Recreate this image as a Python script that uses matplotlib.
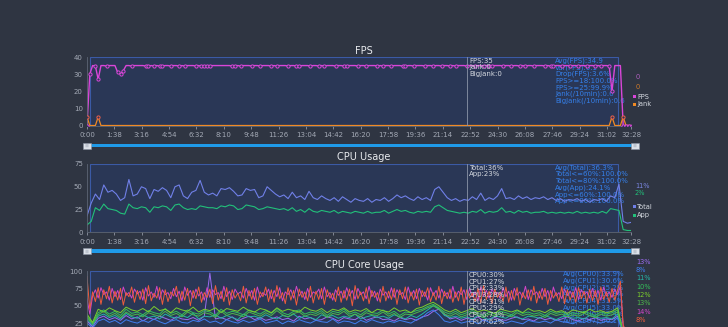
import numpy as np
import matplotlib
matplotlib.use("Agg")
import matplotlib.pyplot as plt
from matplotlib.patches import Rectangle

# ---- data ----
# FPS panel, one sample every 10 s
fps = [0, 30, 35, 34.7, 27, 35, 35, 34.7, 35, 35, 35, 31, 30, 32, 35, 35, 34.7, 35, 35, 35,
       35, 34.7, 34.7, 35, 34.7, 35, 34.7, 34.7, 35, 35, 34.7, 35, 35, 34.7, 35, 34.7, 35, 35, 35, 34.7,
       35, 34.7, 34.7, 34.7, 34.7, 35, 35, 35, 35, 35, 35, 35, 34.7, 34.7, 35, 34.7, 35, 35, 35, 34.7,
       35, 35, 34.7, 35, 35, 35, 34.7, 35, 34.7, 35, 35, 35, 34.7, 35, 35, 34.7, 34.7, 35, 35, 35,
       34.7, 35, 35, 34.7, 35, 34.7, 35, 35, 35, 34.7, 35, 35, 34.7, 34.7, 35, 35, 35, 34.7, 35, 35,
       34.7, 35, 35, 35, 34.7, 35, 34.7, 35, 35, 34.7, 35, 35, 35, 34.7, 34.7, 35, 35, 34.7, 35, 35,
       35, 34.7, 35, 35, 34.7, 35, 35, 34.7, 35, 35, 34.7, 35, 34.7, 35, 35, 35, 34.7, 35, 35, 34.7,
       35, 35, 34.7, 35, 34.7, 34.7, 35, 35, 35, 34.7, 35, 35, 34.7, 35, 35, 34.7, 35, 34.7, 35, 35,
       34.7, 35, 35, 35, 34.7, 35, 34.7, 34.7, 35, 35, 34.7, 35, 35, 34.7, 35, 35, 34.7, 35, 35, 34.7,
       35, 35, 34.7, 35, 34.7, 35, 35, 34.7, 20, 35, 35, 35, 0, 0, 0, 0]
jank = [5, 0, 0, 0, 5] + [0] * 183 + [5, 0, 0, 0, 5, 0, 0, 0]

# CPU usage panel, one sample every 15 s
cpu_total = [18, 32, 42, 36, 52, 44, 46, 42, 35, 38, 58, 40, 42, 50, 48, 37, 47, 45, 49, 46,
             38, 50, 52, 40, 37, 44, 46, 57, 44, 41, 43, 40, 48, 47, 49, 45, 40, 41, 48, 46,
             47, 38, 40, 50, 46, 42, 39, 41, 37, 44, 38, 40, 36, 45, 38, 36, 40, 37, 35, 38,
             34, 39, 36, 33, 37, 35, 34, 37, 33, 36, 35, 38, 34, 37, 41, 38, 40, 37, 35, 39,
             36, 38, 35, 47, 50, 44, 38, 35, 37, 34, 36, 35, 39, 36, 43, 35, 38, 36, 40, 48,
             37, 38, 36, 40, 37, 39, 36, 38, 37, 39, 36, 38, 35, 37, 34, 36, 35, 37, 34, 36,
             33, 36, 35, 37, 34, 40, 38, 53, 12, 10, 11]
cpu_app = [8, 12, 27, 24, 31, 26, 25, 24, 21, 20, 31, 27, 26, 28, 27, 22, 28, 27, 29, 28,
           24, 30, 31, 27, 25, 26, 25, 29, 28, 27, 27, 26, 29, 28, 30, 29, 25, 26, 30, 29,
           28, 25, 26, 28, 27, 26, 25, 26, 24, 27, 23, 25, 22, 26, 23, 22, 24, 23, 22, 24,
           21, 23, 22, 21, 23, 22, 21, 23, 21, 22, 22, 24, 21, 23, 25, 23, 24, 22, 21, 23,
           22, 23, 22, 28, 30, 27, 24, 23, 22, 21, 22, 21, 23, 22, 25, 21, 23, 22, 23, 27,
           22, 23, 21, 24, 22, 23, 21, 22, 22, 23, 21, 22, 21, 22, 21, 22, 21, 23, 21, 22,
           21, 22, 21, 23, 21, 26, 25, 24, 3, 2, 2]

# CPU cores: cpu0-cpu5 one sample every 20 s, cpu6/cpu7 every 10 s
cpu0 = [28, 20, 32, 35, 30, 33, 29, 36, 31, 34, 28, 33, 30, 35, 32, 29, 34, 31, 30, 33,
        29, 35, 97, 31, 33, 30, 34, 28, 32, 35, 30, 33, 29, 31, 34, 30, 32, 28, 35, 31,
        33, 29, 30, 34, 32, 28, 33, 31, 30, 35, 29, 32, 34, 30, 31, 28, 33, 30, 32, 29,
        34, 36, 42, 45, 38, 31, 33, 29, 32, 30, 34, 28, 31, 33, 30, 29, 32, 34, 30, 31,
        28, 33, 30, 32, 29, 31, 34, 30, 28, 32, 30, 33, 29, 31, 30, 35, 14, 13, 13]
cpu1 = [25, 18, 28, 31, 26, 29, 24, 30, 27, 25, 29, 26, 31, 27, 24, 28, 30, 26, 25, 29,
        27, 31, 26, 28, 24, 30, 27, 25, 29, 26, 28, 31, 25, 27, 29, 24, 28, 26, 30, 27,
        25, 29, 27, 26, 31, 25, 28, 27, 24, 29, 26, 30, 27, 25, 28, 26, 29, 27, 25, 30,
        33, 40, 44, 37, 28, 26, 29, 25, 27, 28, 24, 30, 26, 27, 29, 25, 28, 26, 24, 29,
        27, 26, 28, 25, 30, 27, 26, 24, 28, 26, 29, 27, 25, 28, 26, 33, 9, 8, 8]
cpu2 = [30, 22, 35, 38, 33, 36, 31, 39, 34, 32, 37, 33, 35, 31, 38, 34, 32, 36, 33, 39,
        31, 35, 34, 37, 32, 36, 33, 30, 38, 34, 35, 32, 37, 33, 31, 36, 34, 38, 32, 35,
        33, 30, 37, 34, 36, 32, 35, 33, 38, 31, 34, 36, 33, 35, 32, 37, 34, 31, 36, 33,
        38, 44, 50, 46, 36, 33, 35, 32, 34, 31, 36, 33, 30, 35, 34, 32, 37, 33, 31, 35,
        34, 32, 36, 33, 30, 34, 35, 32, 33, 31, 36, 34, 32, 33, 31, 38, 12, 11, 11]
cpu3 = [35, 25, 40, 44, 38, 42, 36, 45, 39, 41, 37, 43, 40, 38, 46, 39, 42, 37, 44, 40,
        38, 43, 41, 36, 45, 39, 42, 40, 37, 44, 41, 38, 43, 39, 46, 40, 37, 42, 44, 38,
        41, 39, 43, 36, 42, 40, 45, 38, 41, 37, 43, 40, 39, 44, 38, 42, 36, 41, 40, 43,
        45, 49, 52, 47, 41, 38, 42, 37, 40, 43, 39, 36, 41, 38, 42, 40, 37, 43, 39, 41,
        38, 40, 36, 42, 39, 41, 37, 40, 38, 42, 39, 36, 41, 38, 40, 44, 10, 10, 10]
cpu4 = [38, 26, 45, 41, 47, 43, 40, 48, 44, 42, 46, 41, 49, 43, 45, 40, 47, 44, 42, 48,
        41, 45, 43, 47, 40, 46, 44, 42, 48, 43, 41, 46, 44, 40, 47, 42, 45, 43, 41, 48,
        44, 42, 46, 40, 45, 43, 47, 41, 44, 42, 46, 40, 45, 43, 41, 47, 42, 44, 40, 46,
        48, 52, 55, 50, 44, 41, 45, 40, 43, 46, 41, 44, 42, 39, 45, 43, 41, 44, 40, 46,
        42, 43, 40, 45, 41, 43, 39, 44, 42, 40, 45, 41, 43, 40, 42, 47, 12, 12, 12]
cpu5 = [33, 24, 37, 42, 35, 39, 33, 41, 36, 38, 34, 40, 37, 35, 42, 36, 39, 34, 41, 37,
        35, 40, 38, 33, 42, 36, 39, 37, 34, 41, 38, 35, 40, 36, 43, 37, 34, 39, 41, 35,
        38, 36, 40, 33, 39, 37, 42, 35, 38, 34, 40, 37, 36, 41, 35, 39, 33, 38, 37, 40,
        43, 47, 50, 45, 38, 35, 39, 34, 37, 40, 36, 33, 38, 35, 39, 37, 34, 40, 36, 38,
        35, 37, 33, 39, 36, 38, 34, 37, 35, 39, 36, 33, 38, 35, 37, 41, 13, 13, 13]
cpu6 = [60, 38, 64, 73, 61, 76, 66, 70, 58, 75, 63, 72, 59, 77, 65, 69, 61, 74, 67, 71,
        58, 76, 64, 70, 62, 78, 59, 73, 66, 69, 60, 75, 63, 71, 57, 77, 65, 72, 61, 74,
        64, 70, 58, 76, 62, 73, 66, 69, 60, 78, 63, 71, 59, 74, 67, 70, 61, 75, 64, 72,
        58, 77, 62, 69, 65, 74, 60, 72, 63, 76, 57, 70, 66, 73, 61, 78, 64, 71, 59, 75,
        62, 70, 67, 74, 60, 77, 63, 69, 58, 73, 65, 71, 61, 76, 64, 72, 59, 75, 66, 70,
        60, 78, 63, 71, 57, 74, 65, 70, 61, 76, 62, 73, 66, 69, 59, 77, 64, 72, 60, 75,
        63, 70, 58, 76, 65, 72, 61, 74, 64, 69, 60, 78, 62, 71, 66, 73, 59, 75, 63, 70,
        57, 77, 64, 72, 61, 74, 66, 69, 60, 76, 63, 71, 58, 75, 65, 70, 62, 78, 59, 73,
        66, 70, 61, 75, 63, 72, 57, 77, 64, 69, 60, 74, 65, 71, 62, 76, 59, 73, 66, 70,
        61, 75, 63, 72, 58, 77, 64, 70, 62, 74, 66, 78, 20, 17, 15, 14]
cpu7 = [92, 45, 70, 56, 76, 52, 73, 60, 78, 54, 71, 58, 75, 51, 69, 63, 77, 55, 72, 59,
        74, 53, 79, 57, 68, 61, 76, 52, 73, 56, 70, 64, 78, 54, 71, 58, 75, 50, 72, 60,
        77, 55, 69, 62, 74, 53, 79, 58, 71, 56, 76, 51, 73, 61, 68, 57, 78, 54, 72, 59,
        75, 52, 70, 63, 77, 56, 73, 55, 79, 60, 69, 53, 76, 58, 72, 51, 74, 62, 70, 57,
        78, 54, 71, 59, 75, 52, 73, 61, 68, 56, 77, 55, 72, 58, 74, 50, 79, 60, 70, 57,
        76, 53, 72, 62, 69, 55, 78, 57, 71, 59, 75, 52, 73, 60, 77, 54, 70, 58, 74, 51,
        72, 63, 76, 56, 69, 58, 78, 53, 71, 60, 74, 55, 70, 57, 77, 52, 73, 61, 68, 56,
        75, 54, 79, 59, 71, 53, 74, 62, 70, 56, 77, 55, 72, 58, 76, 51, 69, 60, 73, 57,
        78, 54, 71, 59, 75, 52, 72, 61, 69, 56, 77, 53, 73, 58, 70, 55, 76, 60, 71, 54,
        74, 57, 72, 52, 77, 59, 70, 55, 75, 58, 73, 85, 22, 14, 10, 8]
cores = [cpu0, cpu1, cpu2, cpu3, cpu4, cpu5, cpu6, cpu7]
core_step = [20, 20, 20, 20, 20, 20, 10, 10]

duration = 1948          # 32:28
sel_range = (12, 1902)   # highlighted range in seconds
cursor_t = 1360          # tooltip position

fps_stats = ["Avg(FPS):34.9", "Var(FPS):0.1", "Drop(FPS):3.6%", "FPS>=18:100.0%",
             "FPS>=25:99.9%", "Jank(/10min):0.6", "BigJank(/10min):0.6"]
fps_tip = ["FPS:35", "Jank:0", "BigJank:0"]
cpu_stats = ["Avg(Total):36.3%", "Total<=60%:100.0%", "Total<=80%:100.0%",
             "Avg(App):24.1%", "App<=60%:100.0%", "App<=80%:100.0%"]
cpu_tip = ["Total:36%", "App:23%"]
core_stats = ["Avg(CPU0):33.9%", "Avg(CPU1):30.6%", "Avg(CPU2):35.2%", "Avg(CPU3):29.8%",
              "Avg(CPU4):31.5%", "Avg(CPU5):33.0%", "Avg(CPU6):62.4%", "Avg(CPU7):60.1%"]
core_tip = ["CPU0:30%", "CPU1:27%", "CPU2:33%", "CPU3:28%", "CPU4:31%", "CPU5:29%",
            "CPU6:73%", "CPU7:62%"]

# ---- style ----
bg = '#2f3542'
sel_fill = '#2a3756'
sel_edge = '#3b5aa5'
axis_c = '#5d6675'
tick_c = '#a3a9b5'
stat_c = '#3580ea'
tip_c = '#d5d9e0'
core_colors = ['#9b6cf0', '#3f7ff0', '#26b5a8', '#34c05a', '#7ccf2c', '#4fb84a', '#d145c9', '#f05c3c']

W, H = 728, 327
fig = plt.figure(figsize=(W / 100, H / 100), dpi=100, facecolor=bg)


def fx(px):
    return px / W


def fy(py):
    return 1 - py / H


def make_axes(top, bottom, ymax, yticks, xlabels=True):
    ax = fig.add_axes([fx(87), fy(bottom), fx(631) - fx(87), fy(top) - fy(bottom)])
    ax.set_facecolor('none')
    ax.set_xlim(0, duration)
    ax.set_ylim(0, ymax)
    for s in ['top', 'right']:
        ax.spines[s].set_visible(False)
    for s in ['left', 'bottom']:
        ax.spines[s].set_color(axis_c)
        ax.spines[s].set_linewidth(0.6)
    xt = list(range(0, duration - 60, 98)) + [duration]
    ax.set_xticks(xt)
    ax.set_xticklabels([f"{t // 60}:{t % 60:02d}" for t in xt])
    ax.set_yticks(yticks)
    ax.tick_params(axis='x', labelsize=5, colors=tick_c, length=2, width=0.5, pad=3,
                   labelbottom=xlabels)
    ax.tick_params(axis='y', labelsize=5, colors=tick_c, length=0, pad=3)
    ax.add_patch(Rectangle((sel_range[0], 0), sel_range[1] - sel_range[0], ymax,
                           facecolor=sel_fill, edgecolor=sel_edge, lw=0.8, zorder=0))
    ax.axvline(cursor_t, color='#8c95a8', lw=0.6, zorder=4)
    return ax


def slider(py):
    fig.patches.append(Rectangle((fx(89), fy(py + 1.7)), fx(632) - fx(89), 3.4 / H,
                                 facecolor='#1f9ae8', edgecolor='none', transform=fig.transFigure))
    for cx in [86.7, 635]:
        fig.patches.append(Rectangle((fx(cx - 4), fy(py + 3)), 8 / W, 6 / H,
                                     facecolor='#dde2ea', edgecolor='#8a93a3', lw=0.4,
                                     transform=fig.transFigure))
        for dx in [-1.2, 0, 1.2]:
            fig.lines.append(plt.Line2D([fx(cx + dx)] * 2, [fy(py + 1.5), fy(py - 1.5)],
                                        color='#8a93a3', lw=0.3, transform=fig.transFigure))


def texts(ax, lines, x, y0, dy, color, z=1):
    for k, s in enumerate(lines):
        ax.text(fx(x), fy(y0 + k * dy), s, transform=fig.transFigure, fontsize=5,
                color=color, va='center', ha='left', zorder=z)


def legend_items(items, x, y0, dy):
    for k, (lab, c) in enumerate(items):
        y = y0 + k * dy
        fig.patches.append(Rectangle((fx(x - 1.5), fy(y + 1.5)), 3 / W, 3 / H,
                                     facecolor=c, edgecolor='none', transform=fig.transFigure))
        fig.text(fx(x + 3), fy(y), lab, fontsize=4.8, color=tip_c, va='center', ha='left')


# ---- FPS ----
ax1 = make_axes(57, 125.5, 40, [0, 10, 20, 30, 40])
fig.text(0.5, fy(51), "FPS", color='#e8eaee', fontsize=7, ha='center', va='center')
t_fps = np.arange(len(fps)) * 10
fps_a = np.array(fps)
jank_a = np.array(jank)
ax1.plot(t_fps, fps_a, color='#d946d9', lw=1.0, zorder=2)
m = fps_a != 35
ax1.plot(t_fps[m], fps_a[m], 'o', ms=2.3, mfc=sel_fill, mec='#d946d9', mew=0.7, zorder=3)
ax1.plot(t_fps, jank_a, color='#f08a24', lw=0.9, zorder=2)
mj = jank_a > 0
ax1.plot(t_fps[mj], jank_a[mj], 'o', ms=2.3, mfc=sel_fill, mec='#f0604a', mew=0.7, zorder=3)
texts(ax1, fps_stats, 555, 60.7, 6.7, stat_c)
texts(ax1, fps_tip, 469, 60.7, 6.7, tip_c, z=5)
fig.text(fx(636), fy(77.3), "0", fontsize=4.8, color='#b060c0', va='center')
fig.text(fx(636), fy(86.7), "0", fontsize=4.8, color='#d07a2a', va='center')
legend_items([("FPS", '#d946d9'), ("Jank", '#f08a24')], 634, 96.7, 7.5)
slider(145.5)

# ---- CPU Usage ----
ax2 = make_axes(164, 232.3, 75, [0, 25, 50, 75])
fig.text(0.5, fy(157), "CPU Usage", color='#e8eaee', fontsize=7, ha='center', va='center')
texts(ax2, cpu_stats, 555, 167.7, 6.7, stat_c)
texts(ax2, cpu_tip, 469, 167.7, 6.7, tip_c, z=5)
t_cpu = np.arange(len(cpu_total)) * 15
ax2.plot(t_cpu, cpu_total, color='#7080e8', lw=0.8, zorder=2)
ax2.plot(t_cpu, cpu_app, color='#22c07a', lw=0.8, zorder=2)
fig.text(fx(635), fy(185.7), f"{cpu_total[-1]}%", fontsize=4.8, color='#7a86e0', va='center')
fig.text(fx(635), fy(193.3), f"{cpu_app[-1]}%", fontsize=4.8, color='#22c07a', va='center')
legend_items([("Total", '#7080e8'), ("App", '#22c07a')], 634, 206.7, 8.3)
slider(251)

# ---- CPU Core Usage ----
ax3 = make_axes(271, 340.5, 100, [25, 50, 75, 100], xlabels=False)
fig.text(0.5, fy(265), "CPU Core Usage", color='#e8eaee', fontsize=7, ha='center', va='center')
texts(ax3, core_stats, 563, 274, 6.7, stat_c)
texts(ax3, core_tip, 469, 275, 6.7, tip_c, z=5)
for vals, c, step in zip(cores, core_colors, core_step):
    ax3.plot(np.arange(len(vals)) * step, vals, color=c, lw=0.7, zorder=2)
for k, (vals, c) in enumerate(zip(cores, core_colors)):
    fig.text(fx(636), fy(261.7 + k * 8.3), f"{vals[-1]}%", fontsize=4.8, color=c, va='center')

fig.savefig("out.png", dpi=100, facecolor=bg)
